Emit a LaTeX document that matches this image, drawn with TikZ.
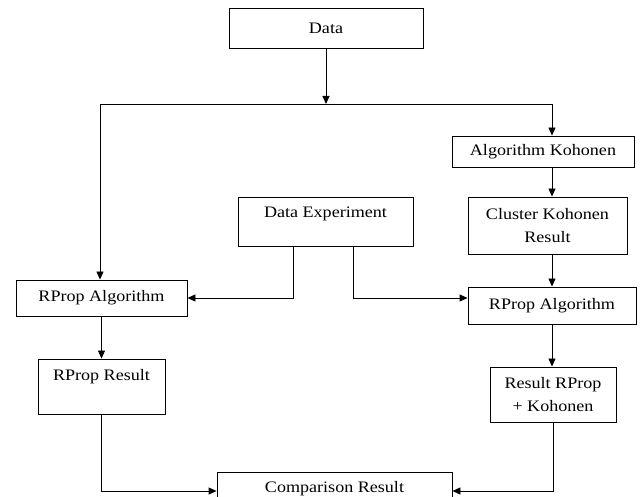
\documentclass[tikz,border=0pt]{standalone}
\usepackage{fontspec}
\setmainfont{Liberation Serif}[FakeStretch=1.13]
\usetikzlibrary{arrows.meta}
\begin{document}
\begin{tikzpicture}[x=1pt,y=-1pt,
  box/.style={draw=black, line width=0.9pt, inner sep=0pt, font=\fontsize{16}{23}\selectfont},
  twoline/.style={box, align=center},
  conn/.style={draw=black, line width=0.9pt},
  arr/.style={conn, -{Triangle[length=8pt,width=7pt]}}]
\useasboundingbox (0,0) rectangle (641,497);
\clip (0,0) rectangle (641,497);

\node[box, minimum width=194pt, minimum height=40pt] (data) at (326,28) {Data};
\node[box, minimum width=182pt, minimum height=31pt] (ak) at (543,151.5) {Algorithm Kohonen};
\node[twoline, minimum width=159pt, minimum height=57pt] (ck) at (547.5,225.5) {Cluster Kohonen\\Result};
\node[box, minimum width=175pt, text height=21pt, text depth=28pt] (de) at (325.5,221.5) {Data Experiment};
\node[box, minimum width=171pt, minimum height=36pt] (rpl) at (101.5,298) {RProp Algorithm};
\node[box, minimum width=168pt, minimum height=37pt] (rpr) at (552,305.5) {RProp Algorithm};
\node[box, minimum width=127pt, text height=22pt, text depth=33pt] (rr) at (101.5,386.5) {RProp Result};
\node[twoline, minimum width=126pt, minimum height=55pt] (rrk) at (553,394.5) {Result RProp\\+ Kohonen};
\node[box, minimum width=235pt, text height=21pt, text depth=17pt] (cmp) at (334.5,491) {Comparison Result};

\coordinate (split) at (326,104);
\coordinate (jl) at (100,104);
\coordinate (jr) at (552,104);
\coordinate (dl) at (293,0);
\coordinate (dr) at (353,0);

\draw[arr] (data.south) -- (split);
\draw[conn] (jl) -- (jr);
\draw[arr] (jl) -- (jl |- rpl.north);
\draw[arr] (jr) -- (jr |- ak.north);
\draw[arr] (jr |- ak.south) -- (jr |- ck.north);
\draw[arr] (jr |- ck.south) -- (jr |- rpr.north);
\draw[arr] (jr |- rpr.south) -- (jr |- rrk.north);
\draw[arr] (rpl.south) -- (rr.north);
\draw[arr] (de.south -| dl) |- (rpl.east);
\draw[arr] (de.south -| dr) |- (rpr.west |- rpl.east);
\draw[arr] (rr.south) |- (cmp.west);
\draw[arr] (rrk.south) |- (cmp.east);
\end{tikzpicture}
\end{document}
